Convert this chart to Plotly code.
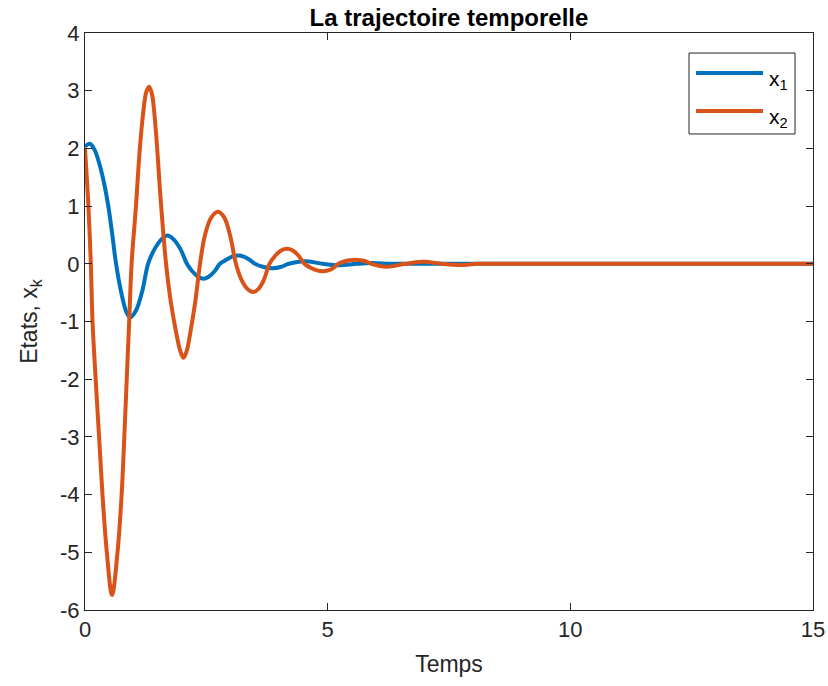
import plotly.graph_objects as go

# Time samples and state values of the simulated trajectory
t_x1 = [0, 0.1, 0.2, 0.3, 0.4, 0.48, 0.56, 0.64, 0.76, 0.85, 0.93, 1.05, 1.18,
        1.3, 1.43, 1.57, 1.7, 1.83, 1.97, 2.1, 2.21, 2.33, 2.44, 2.55, 2.67,
        2.78, 2.91, 3.03, 3.16, 3.27, 3.39, 3.5, 3.68, 3.86, 4.03, 4.2, 4.52,
        4.9, 5.22, 5.6, 5.92, 6.3, 7.0, 8.0, 15.0]
x1 = [2.03, 2.08, 1.97, 1.72, 1.37, 1.0, 0.52, 0.0, -0.55, -0.83, -0.93, -0.81,
      -0.47, 0.0, 0.25, 0.42, 0.49, 0.42, 0.25, 0.0, -0.13, -0.225, -0.26,
      -0.225, -0.13, 0.0, 0.07, 0.125, 0.145, 0.125, 0.07, 0.0, -0.055, -0.075,
      -0.055, 0.0, 0.045, 0.0, -0.025, 0.0, 0.012, 0.0, 0.0, 0.0, 0.0]

t_x2 = [0, 0.07, 0.12, 0.155, 0.22, 0.29, 0.36, 0.45, 0.557, 0.67, 0.755, 0.81,
        0.86, 0.91, 0.96, 1.05, 1.13, 1.2, 1.26, 1.32, 1.38, 1.46, 1.56, 1.67,
        1.77, 1.89, 1.96, 2.03, 2.1, 2.16, 2.27, 2.37, 2.47, 2.6, 2.74, 2.87,
        2.99, 3.11, 3.22, 3.34, 3.46, 3.58, 3.69, 3.8, 3.92, 4.04, 4.16, 4.28,
        4.4, 4.52, 4.65, 4.78, 4.9, 5.01, 5.12, 5.22, 5.34, 5.45, 5.57, 5.68,
        5.79, 5.9, 6.22, 6.6, 6.98, 7.35, 7.73, 8.1, 9.0, 15.0]
x2 = [2.0, 1.0, 0.0, -1.0, -2.0, -3.0, -4.0, -5.0, -5.74, -5.0, -4.0, -3.0,
      -2.0, -1.0, 0.0, 1.0, 2.0, 2.62, 2.97, 3.07, 2.94, 2.3, 1.1, 0.0,
      -0.67, -1.24, -1.5, -1.63, -1.5, -1.24, -0.67, 0.0, 0.49, 0.8, 0.9, 0.8,
      0.49, 0.0, -0.27, -0.43, -0.49, -0.43, -0.27, 0.0, 0.14, 0.23, 0.26, 0.23,
      0.14, 0.0, -0.07, -0.115, -0.13, -0.115, -0.07, 0.0, 0.04, 0.06, 0.07, 0.06,
      0.04, 0.0, -0.05, 0.0, 0.035, 0.0, -0.02, 0.0, 0.0, 0.0]

x_ticks = [0, 5, 10, 15]
y_ticks = [-6, -5, -4, -3, -2, -1, 0, 1, 2, 3, 4]

series = [
    ("x<sub>1</sub>", t_x1, x1, "#0072BD"),
    ("x<sub>2</sub>", t_x2, x2, "#D95319"),
]

FONT = "Liberation Sans, Arial, sans-serif"
INK = "#262626"

fig = go.Figure()
for name, t, v, color in series:
    fig.add_trace(go.Scatter(
        x=t, y=v, mode="lines", name=name,
        line=dict(color=color, width=4, shape="spline", smoothing=1.0),
        showlegend=False,
    ))

axis_common = dict(
    showgrid=False, zeroline=False, automargin=False,
    showline=True, linecolor=INK, linewidth=1, mirror="ticks",
    ticks="inside", ticklen=7, tickwidth=1, tickcolor=INK,
    tickfont=dict(family=FONT, size=22, color=INK),
)

fig.update_xaxes(range=[0, 15], tickvals=x_ticks, ticktext=[str(v) for v in x_ticks],
                 title=dict(text="Temps", font=dict(family=FONT, size=23, color=INK), standoff=14),
                 **axis_common)
fig.update_yaxes(range=[-6, 4], tickvals=y_ticks, ticktext=[str(v) for v in y_ticks],
                 title=dict(text="Etats, x<sub>k</sub>", font=dict(family=FONT, size=23, color=INK), standoff=15),
                 **axis_common)

# Boxed legend in the top-right corner of the axes
box = dict(x0=0.8297, x1=0.9753, y0=0.825, y1=0.9653)
rows = [0.9307, 0.8648]
shapes = [dict(type="rect", xref="paper", yref="paper", **box,
               line=dict(color=INK, width=1), fillcolor="white", layer="above")]
annotations = []
for (name, _, _, color), yy in zip(series, rows):
    shapes.append(dict(type="line", xref="paper", yref="paper",
                       x0=0.8393, x1=0.9313, y0=yy, y1=yy,
                       line=dict(color=color, width=4), layer="above"))
    annotations.append(dict(xref="paper", yref="paper", x=0.9368, y=yy - 0.012,
                            xanchor="left", yanchor="middle", showarrow=False,
                            text=name, font=dict(family=FONT, size=21, color="black")))

fig.update_layout(
    width=828, height=686,
    margin=dict(l=85, r=15, t=33, b=76),
    paper_bgcolor="white", plot_bgcolor="white",
    title=dict(text="<b>La trajectoire temporelle</b>", x=0.5, xref="paper",
               y=0.975, yanchor="middle",
               font=dict(family=FONT, size=24, color="black")),
    shapes=shapes, annotations=annotations,
)

fig.write_html("out.html")
